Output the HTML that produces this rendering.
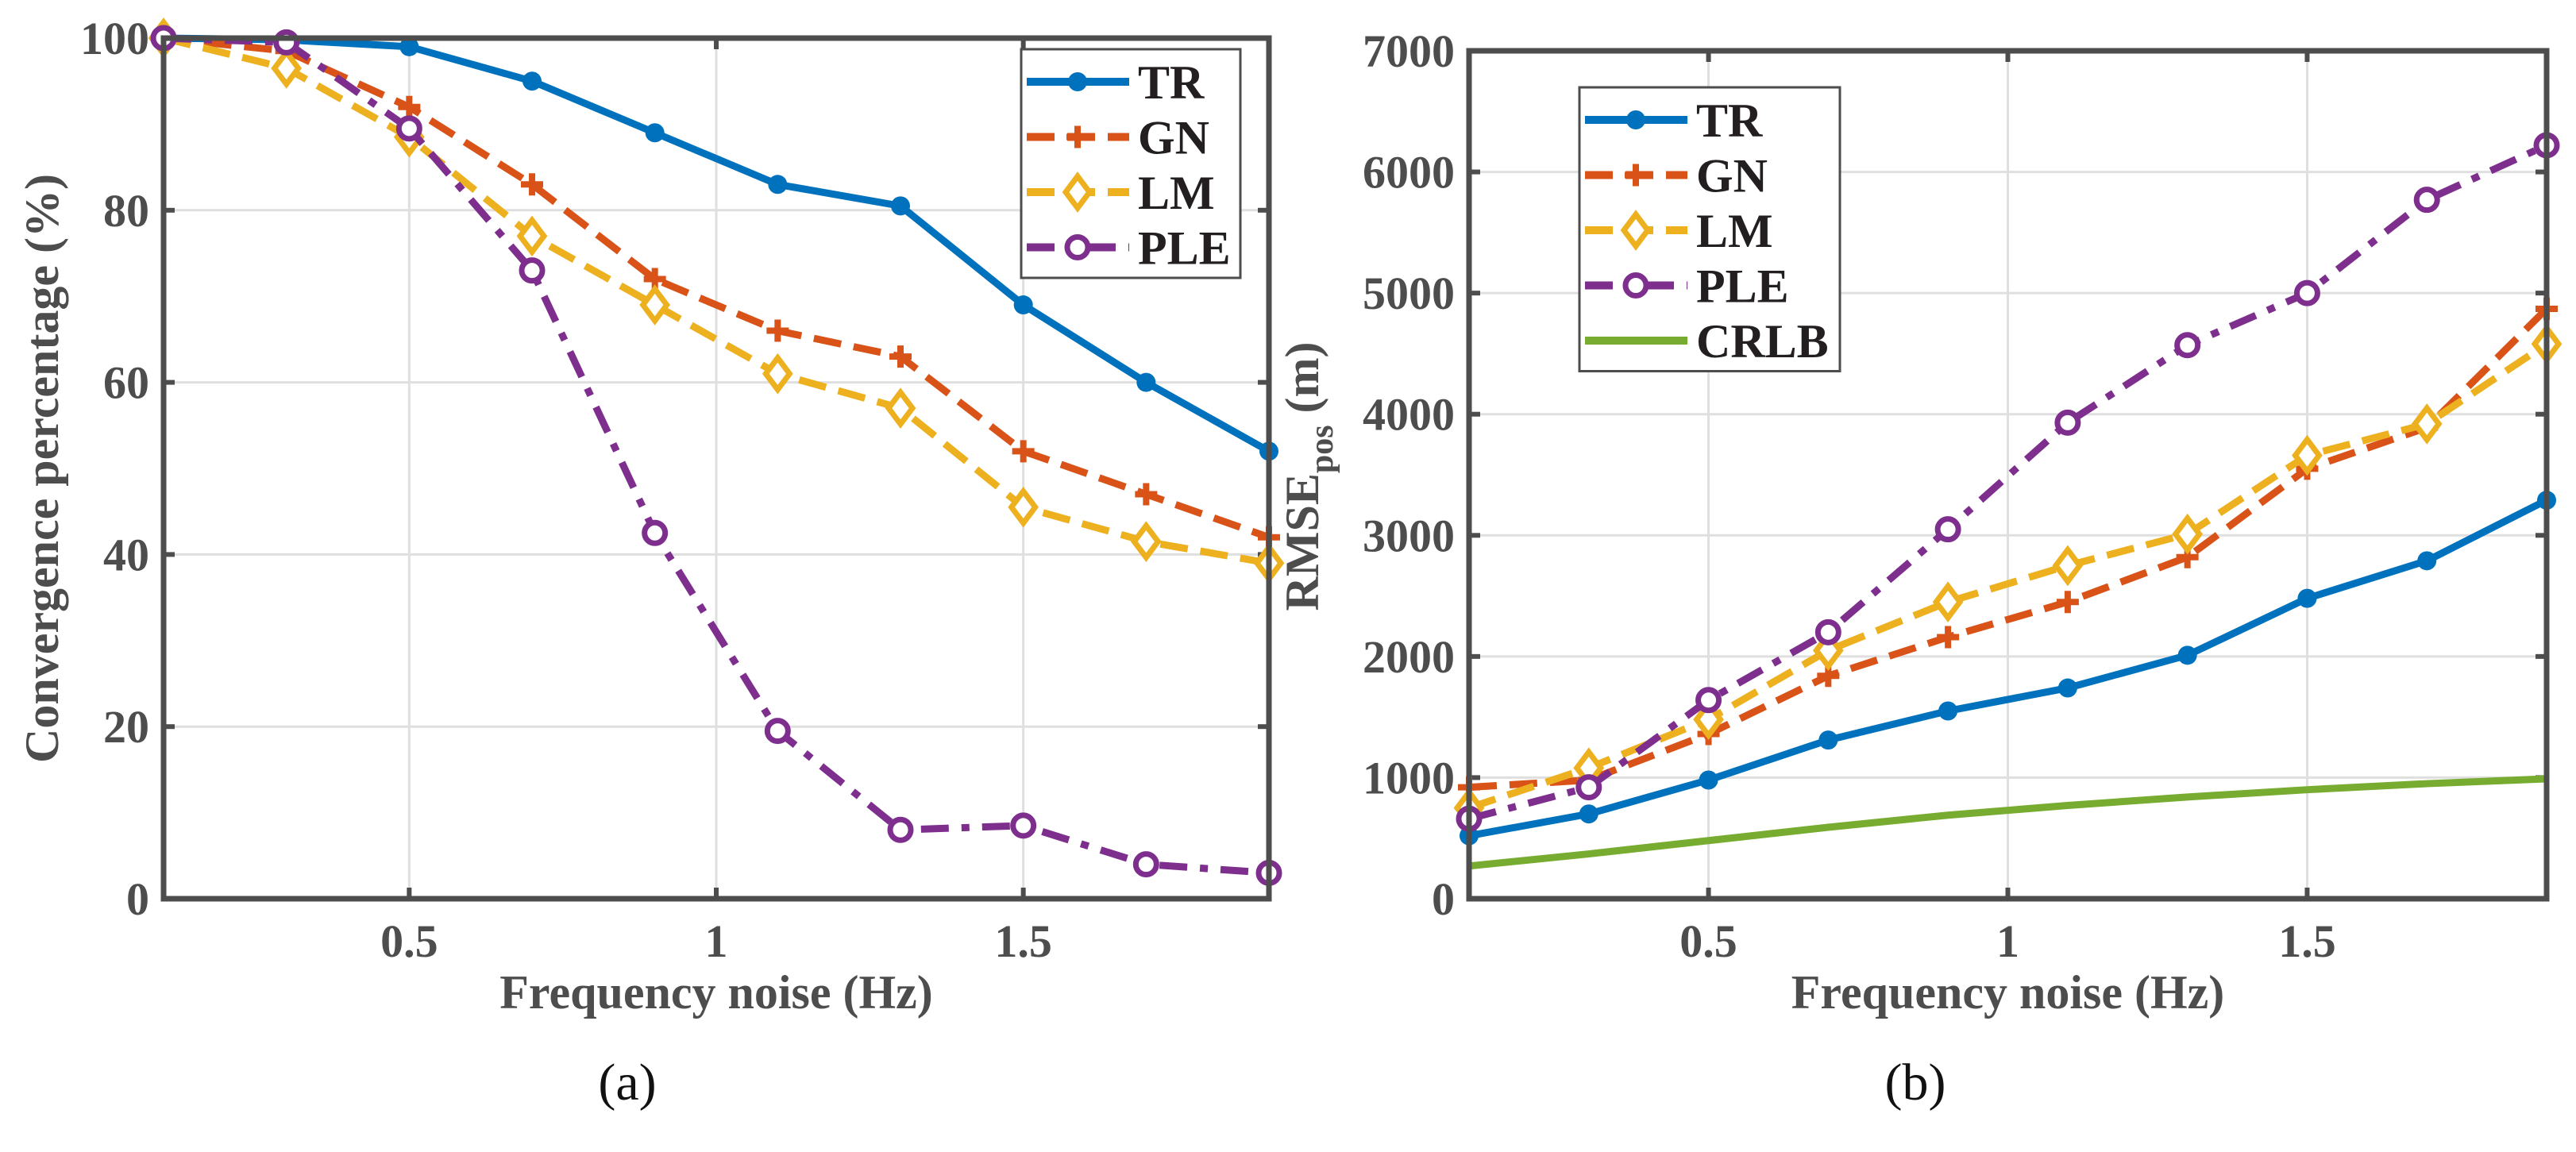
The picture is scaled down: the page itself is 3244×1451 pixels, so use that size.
<!DOCTYPE html>
<html><head><meta charset="utf-8"><style>
body{margin:0;background:#fff}
svg{display:block}
text{font-family:"Liberation Serif",serif}
</style></head><body>
<svg id="fig" width="3244" height="1451" viewBox="0 0 3244 1451" xmlns="http://www.w3.org/2000/svg"></svg>
<script>
const xVals=[0.1,0.3,0.5,0.7,0.9,1.1,1.3,1.5,1.7,1.9];
const xTicks=[0.5,1,1.5];
const xTickLabels=["0.5","1","1.5"];
const aTicks=[0,20,40,60,80,100];
const bTicks=[0,1000,2000,3000,4000,5000,6000,7000];
const aTR=[100,99.8,99,95,89,83,80.5,69,60,52];
const aGN=[100,98.5,92,83,72,66,63,52,47,42];
const aLM=[100,96.5,88.5,77,69,61,57,45.5,41.5,39];
const aPLE=[100,99.5,89.5,73,42.5,19.5,8,8.5,4,3];
const bTR=[520,700,980,1310,1550,1740,2010,2480,2790,3290];
const bGN=[920,980,1360,1840,2160,2450,2820,3550,3890,4870];
const bLM=[750,1080,1480,2050,2450,2750,3010,3660,3920,4580];
const bPLE=[660,920,1640,2200,3050,3930,4570,5000,5770,6220];
const bCRLB=[270,370,480,590,690,770,840,900,950,990];

const NS="http://www.w3.org/2000/svg";
const svg=document.getElementById('fig');
function mk(tag,attrs,parent,txt){const e=document.createElementNS(NS,tag);for(const k in attrs)e.setAttribute(k,attrs[k]);if(txt!==undefined)e.textContent=txt;(parent||svg).appendChild(e);return e;}
const AX="#4d4d4d";
const styles={
 TR:{c:"#0072BD",dash:"",m:"dot"},
 GN:{c:"#D95319",dash:"35 16",m:"plus"},
 LM:{c:"#EDB120",dash:"35 16",m:"diamond"},
 PLE:{c:"#7E2F8E",dash:"35 16 10 16",m:"circle"},
 CRLB:{c:"#77AC30",dash:"",m:null}
};
function marker(g,kind,x,y,c){
 let e;
 if(kind==="dot"){e=mk('circle',{cx:x,cy:y,r:12,fill:c},g);}
 else if(kind==="plus"){e=mk('path',{d:`M${x-14},${y}H${x+14}M${x},${y-14}V${y+14}`,stroke:c,'stroke-width':8,fill:'none'},g);}
 else if(kind==="diamond"){e=mk('path',{d:`M${x},${y-20}L${x+15},${y}L${x},${y+20}L${x-15},${y}Z`,stroke:c,'stroke-width':7,fill:'#fff'},g);}
 else if(kind==="circle"){e=mk('circle',{cx:x,cy:y,r:13,stroke:c,'stroke-width':7,fill:'#fff'},g);}
 if(e){}
}
function panel(id,L,R,T,B,yMax,yTicks,series,yLabel,legend,letter,letterX){
 const g=mk('g',{});
 
 const sx=v=>L+(v-0.1)/1.8*(R-L);
 const sy=v=>B-v/yMax*(B-T);
 mk('rect',{x:L,y:T,width:R-L,height:B-T,fill:'#fff'},g);
 const grid=mk('g',{stroke:'#dfdfdf','stroke-width':3},g);
 
 xTicks.forEach(t=>mk('line',{x1:sx(t),x2:sx(t),y1:T,y2:B},grid));
 yTicks.forEach(t=>mk('line',{x1:L,x2:R,y1:sy(t),y2:sy(t)},grid));
 const tk=mk('g',{stroke:AX,'stroke-width':6},g);
 xTicks.forEach(t=>{mk('line',{x1:sx(t),x2:sx(t),y1:B,y2:B-14},tk);mk('line',{x1:sx(t),x2:sx(t),y1:T,y2:T+14},tk);});
 yTicks.forEach(t=>{mk('line',{x1:L,x2:L+14,y1:sy(t),y2:sy(t)},tk);mk('line',{x1:R,x2:R-14,y1:sy(t),y2:sy(t)},tk);});
 const xl=mk('g',{fill:AX,'font-size':58,'font-weight':'bold','text-anchor':'middle'},g);
 
 xTicks.forEach((t,i)=>mk('text',{x:sx(t),y:B+73},xl,xTickLabels[i]));
 const yl=mk('g',{fill:AX,'font-size':58,'font-weight':'bold','text-anchor':'end'},g);
 
 yTicks.forEach(t=>mk('text',{x:L-18,y:sy(t)+20},yl,String(t)));
 series.forEach(([name,vals])=>{
  const s=styles[name];
  const sg=mk('g',{},g);
  
  const pts=vals.map((v,i)=>sx(xVals[i])+','+sy(v)).join(' ');
  const pl=mk('polyline',{points:pts,fill:'none',stroke:s.c,'stroke-width':9,'stroke-dasharray':s.dash,'stroke-linejoin':'round'},sg);
  
  if(s.m)vals.forEach((v,i)=>marker(sg,s.m,sx(xVals[i]),sy(v),s.c));
 });
 const fr=mk('rect',{x:L,y:T,width:R-L,height:B-T,fill:'none',stroke:AX,'stroke-width':7},g);
 
 const xt=mk('text',{x:(L+R)/2,y:B+138,fill:AX,'font-size':60,'font-weight':'bold','text-anchor':'middle'},g,'Frequency noise (Hz)');
 
 yLabel(g);
 // legend
 const lg=mk('g',{},g);
 
 const rowH=69.5;
 mk('rect',{x:legend.x,y:legend.y,width:legend.w,height:legend.n*rowH+10,fill:'#fff',stroke:AX,'stroke-width':3},lg);
 series.forEach(([name],i)=>{
  const s=styles[name];
  const cy=legend.y+41+i*rowH;
  const e=mk('g',{},lg);
  
  mk('line',{x1:legend.x+7,x2:legend.x+136,y1:cy,y2:cy,stroke:s.c,'stroke-width':10,'stroke-dasharray':s.dash},e);
  if(s.m)marker(e,s.m,legend.x+71,cy,s.c);
  mk('text',{x:legend.x+147,y:cy+21,fill:'#231f20','font-size':60,'font-weight':'bold'},e,name);
 });
 const lt=mk('text',{x:letterX,y:1385,fill:'#111','font-size':66,'text-anchor':'middle'},g,letter);
 
}
panel('a',206,1598,48,1132,100,aTicks,[["TR",aTR],["GN",aGN],["LM",aLM],["PLE",aPLE]],
 g=>{const t=mk('text',{x:0,y:0,fill:AX,'font-size':60,'font-weight':'bold','text-anchor':'middle',transform:'translate(73,590) rotate(-90)'},g,'Convergence percentage (%)');
 },
 {x:1286,y:62,w:276,n:4},'(a)',790);
panel('b',1850,3207,64,1132,7000,bTicks,[["TR",bTR],["GN",bGN],["LM",bLM],["PLE",bPLE],["CRLB",bCRLB]],
 g=>{const t=mk('text',{x:0,y:0,fill:AX,'font-size':60,'font-weight':'bold','text-anchor':'middle',transform:'translate(1660,600) rotate(-90)'},g);
 
 mk('tspan',{},t,'RMSE');mk('tspan',{'font-size':42,dy:18},t,'pos');mk('tspan',{dy:-18},t,'  (m)');},
 {x:1989,y:110,w:328,n:5},'(b)',2412);
</script>
</body></html>
